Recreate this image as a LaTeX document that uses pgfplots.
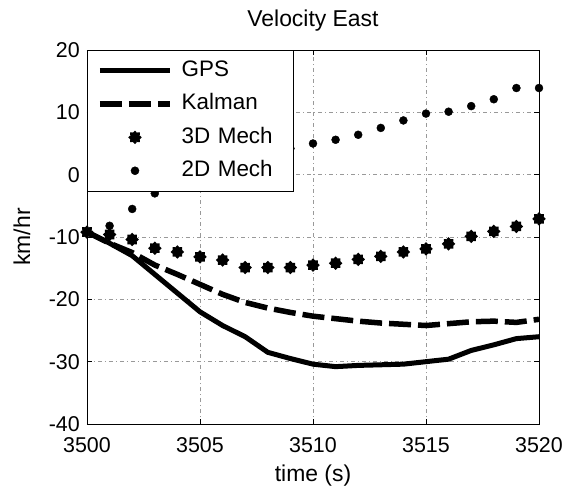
\documentclass[border=0pt]{standalone}
\usepackage{pgfplots}
\pgfplotsset{compat=1.18}
\usepackage{fontspec}
\setmainfont{Liberation Sans}
\pgfdeclareplotmark{mstar}{%
 \pgfpathmoveto{\pgfqpoint{0pt}{\pgfplotmarksize}}\pgfpathlineto{\pgfqpoint{0pt}{-\pgfplotmarksize}}%
 \pgfpathmoveto{\pgfqpoint{\pgfplotmarksize}{0pt}}\pgfpathlineto{\pgfqpoint{-\pgfplotmarksize}{0pt}}%
 \pgfpathmoveto{\pgfqpoint{.707\pgfplotmarksize}{.707\pgfplotmarksize}}\pgfpathlineto{\pgfqpoint{-.707\pgfplotmarksize}{-.707\pgfplotmarksize}}%
 \pgfpathmoveto{\pgfqpoint{.707\pgfplotmarksize}{-.707\pgfplotmarksize}}\pgfpathlineto{\pgfqpoint{-.707\pgfplotmarksize}{.707\pgfplotmarksize}}%
 \pgfusepathqstroke}
\pgfplotsset{myleg/.style={legend image code/.code={\draw[mark repeat=2,mark phase=2,##1] plot coordinates {(0bp,0bp) (35bp,0bp) (70bp,0bp)};}}}
\begin{document}
\begin{tikzpicture}
\begin{axis}[
 at={(0,0)}, anchor=south west,
 scale only axis, width=452bp, height=374bp,
 xmin=3500, xmax=3520, ymin=-40, ymax=20,
 xtick={3500,3505,...,3520}, ytick={-40,-30,...,20},
 /pgf/number format/assume math mode=true,
 /pgf/number format/1000 sep={},
 xticklabel={\fontsize{21.5}{24}\selectfont\pgfmathprintnumber{\tick}},
 yticklabel={\fontsize{21.5}{24}\selectfont\pgfmathprintnumber{\tick}},
 xticklabel style={anchor=base, yshift=-28bp, inner sep=0pt},
 yticklabel style={anchor=east, xshift=-7bp, inner sep=0pt},
 tick align=inside, major tick length=5bp,
 tick style={black, line width=0.5bp},
 axis line style={black, line width=0.6bp},
 grid=major,
 major grid style={gray!80, line width=0.5bp, dash pattern=on 4bp off 3bp on 1bp off 3bp},
 title={\fontsize{23}{26}\selectfont Velocity East},
 title style={at={(0.5,1)}, anchor=base, yshift=18bp, inner sep=0pt},
 xlabel={\fontsize{23}{26}\selectfont time (s)},
 xlabel style={at={(axis description cs:0.5,0)}, anchor=base, yshift=-57bp, inner sep=0pt},
 ylabel={\fontsize{23}{26}\selectfont km/hr},
 ylabel style={at={(axis description cs:0,0.5)}, anchor=center, yshift=65bp, inner sep=0pt},
 clip=false,
 legend cell align=left,
 legend style={at={(0,1)}, anchor=north west, draw=black, line width=0.5bp, fill=white,
   font=\fontsize{22.5}{26}\selectfont, inner xsep=10bp, inner ysep=8bp, row sep=9.5bp,
   nodes={text height=16bp, text depth=4bp, inner sep=2bp, text width=99bp, align=left},
   /tikz/every odd column/.style={column sep=7bp}},
]
\addplot[black, line width=5bp, line join=round, myleg] coordinates {
(3500,-9.2) (3501,-11.0) (3502,-13.0) (3503,-16.0) (3504,-19.0) (3505,-22.0)
(3506,-24.2) (3507,-26.0) (3508,-28.5) (3509,-29.5) (3510,-30.4) (3511,-30.8)
(3512,-30.6) (3513,-30.5) (3514,-30.4) (3515,-30.0) (3516,-29.6) (3517,-28.2)
(3518,-27.3) (3519,-26.3) (3520,-26.0)};
\addlegendentry{GPS}
\addplot[black, line width=5.5bp, dash pattern=on 22bp off 7bp, myleg] coordinates {
(3500,-9.2) (3501,-11.0) (3502,-12.5) (3503,-14.5) (3504,-16.0) (3505,-17.6)
(3506,-19.2) (3507,-20.5) (3508,-21.4) (3509,-22.1) (3510,-22.7) (3511,-23.1)
(3512,-23.5) (3513,-23.8) (3514,-24.0) (3515,-24.2) (3516,-23.9) (3517,-23.6)
(3518,-23.5) (3519,-23.7) (3520,-23.2)};
\addlegendentry{Kalman}
\addplot[black, only marks, mark=mstar, mark size=5bp, mark options={line width=3.5bp, line cap=round}, myleg] coordinates {
(3500,-9.2) (3501,-9.6) (3502,-10.4) (3503,-11.8) (3504,-12.4) (3505,-13.2)
(3506,-13.7) (3507,-14.9) (3508,-14.9) (3509,-14.9) (3510,-14.5) (3511,-14.2)
(3512,-13.6) (3513,-13.1) (3514,-12.4) (3515,-11.9) (3516,-11.1) (3517,-9.9)
(3518,-9.1) (3519,-8.3) (3520,-7.1)};
\addlegendentry{3D Mech}
\addplot[black, only marks, mark=*, mark size=4bp, myleg] coordinates {
(3500,-9.1) (3501,-8.2) (3502,-5.5) (3503,-3.0) (3509,4.2) (3510,5.0)
(3511,5.6) (3512,6.4) (3513,7.5) (3514,8.7) (3515,9.8) (3516,10.1)
(3517,11.0) (3518,12.1) (3519,13.9) (3520,13.9)};
\addlegendentry{2D Mech}
\end{axis}
\pgfresetboundingbox
\path[use as bounding box] (-87bp,-62bp) rectangle (477bp,424bp);
\end{tikzpicture}
\end{document}
